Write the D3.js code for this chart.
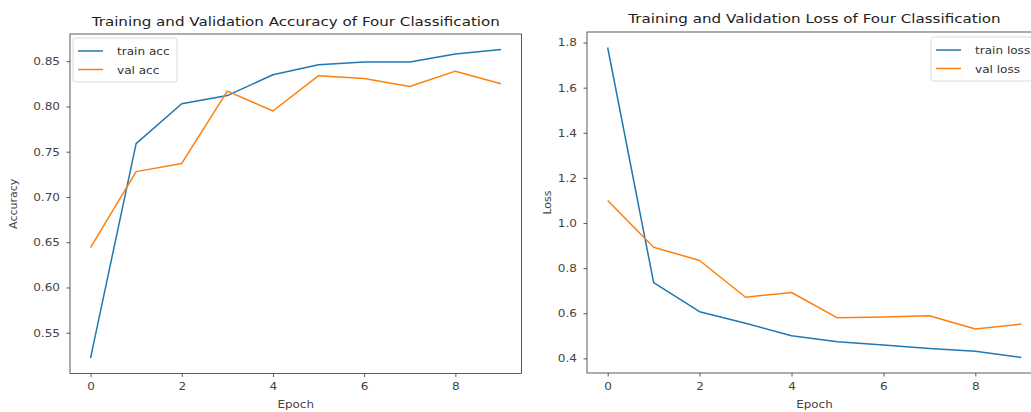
<!DOCTYPE html>
<html>
<head>
<meta charset="utf-8">
<script src="https://cdn.jsdelivr.net/npm/d3@7"></script>
<style>
  body { margin: 0; background: #fff; }
  svg { display: block; font-family: "DejaVu Sans", sans-serif; }
</style>
</head>
<body>
<svg id="chart" width="1031" height="412"></svg>
<script>
const epochs = [0, 1, 2, 3, 4, 5, 6, 7, 8, 9];
const trainAcc = [0.522, 0.759, 0.803, 0.812, 0.835, 0.846, 0.849, 0.849, 0.858, 0.863];
const valAcc = [0.644, 0.728, 0.737, 0.817, 0.795, 0.834, 0.831, 0.822, 0.839, 0.825];
const trainLoss = [1.778, 0.736, 0.607, 0.556, 0.500, 0.474, 0.459, 0.444, 0.432, 0.404];
const valLoss = [1.100, 0.893, 0.834, 0.671, 0.692, 0.580, 0.583, 0.589, 0.530, 0.552];
const xTicks = [0, 2, 4, 6, 8];
const accTicks = [0.55, 0.60, 0.65, 0.70, 0.75, 0.80, 0.85];
const lossTicks = [0.4, 0.6, 0.8, 1.0, 1.2, 1.4, 1.6, 1.8];

const BLUE = "#1f77b4", ORANGE = "#ff7f0e";
const SX = 1.15;      // horizontal stretch of the reference's text
const svg = d3.select("#chart");

function padded(vals) {
  const [a, b] = d3.extent(vals);
  const m = (b - a) * 0.05;
  return [a - m, b + m];
}

function stretchedText(parent, x, y, str, size, sx, anchor, fill) {
  return parent.append("text")
    .attr("transform", `translate(${x},${y}) scale(${sx},1)`)
    .attr("text-anchor", anchor).attr("font-size", size).attr("fill", fill).text(str);
}

function panel(opt) {
  const x = d3.scaleLinear().domain([-0.45, 9.45]).range([opt.x0, opt.x1]);
  const y = d3.scaleLinear().domain(padded(opt.series.flatMap(s => s.values))).range([opt.y1, opt.y0]);
  const g = svg.append("g");

  const line = vals => d3.line().x((d, i) => x(epochs[i])).y(d => y(d))(vals);
  opt.series.forEach(s => {
    g.append("path").attr("d", line(s.values)).attr("fill", "none")
      .attr("stroke", s.color).attr("stroke-width", 1.5).attr("stroke-linejoin", "round");
  });

  const xa = g.append("g").attr("transform", `translate(0,${opt.y1})`)
    .call(d3.axisBottom(x).tickValues(xTicks).tickFormat(d3.format("d")).tickSize(3.5).tickPadding(6));
  const ya = g.append("g").attr("transform", `translate(${opt.x0},0)`)
    .call(d3.axisLeft(y).tickValues(opt.yTicks).tickFormat(opt.fmt).tickSize(3.5).tickPadding(6.5));
  [xa, ya].forEach(a => {
    a.select(".domain").remove();
    a.selectAll("line").attr("stroke", "#333").attr("stroke-width", 0.8);
    a.selectAll("text").attr("fill", "#444").attr("font-size", 10.5).attr("font-family", "DejaVu Sans")
      .each(function () {
        const t = d3.select(this);
        const tx = +t.attr("x") || 0;
        t.attr("x", tx / SX).attr("transform", `scale(${SX},1)`);
      });
  });

  g.append("rect").attr("x", opt.x0).attr("y", opt.y0)
    .attr("width", opt.x1 - opt.x0).attr("height", opt.y1 - opt.y0)
    .attr("fill", "none").attr("stroke", "#333").attr("stroke-width", 0.8);

  stretchedText(g, (opt.x0 + opt.x1) / 2, opt.titleY, opt.title, 12.6, 1.2, "middle", "#222");
  stretchedText(g, (opt.x0 + opt.x1) / 2, 408, "Epoch", 10.8, 1.1, "middle", "#444");
  g.append("text").attr("transform", `translate(${opt.ylx},${(opt.y0 + opt.y1) / 2}) rotate(-90) scale(1.05,1)`)
    .attr("text-anchor", "middle").attr("font-size", 10.5).attr("fill", "#444").text(opt.ylabel);

  const L = opt.legend;
  const lg = g.append("g");
  lg.append("rect").attr("x", L.x).attr("y", L.y).attr("width", L.w).attr("height", L.h)
    .attr("rx", 2.5).attr("fill", "#fff").attr("fill-opacity", 0.8)
    .attr("stroke", "#d0d0d0").attr("stroke-width", 0.8);
  opt.series.forEach((s, i) => {
    const ly = L.y + 13 + i * 18.5;
    lg.append("line").attr("x1", L.x + 5).attr("x2", L.x + 30).attr("y1", ly).attr("y2", ly)
      .attr("stroke", s.color).attr("stroke-width", 1.5);
    stretchedText(lg, L.x + 44, ly + 4, s.name, 10.5, SX, "start", "#333");
  });
}

panel({
  x0: 70, x1: 521.5, y0: 34, y1: 373.5, titleY: 26,
  series: [{name: "train acc", values: trainAcc, color: BLUE}, {name: "val acc", values: valAcc, color: ORANGE}],
  yTicks: accTicks, fmt: d3.format(".2f"),
  title: "Training and Validation Accuracy of Four Classification",
  ylabel: "Accuracy", ylx: 17,
  legend: {x: 73, y: 38, w: 104, h: 44}
});

panel({
  x0: 587, x1: 1042, y0: 32, y1: 373, titleY: 23,
  series: [{name: "train loss", values: trainLoss, color: BLUE}, {name: "val loss", values: valLoss, color: ORANGE}],
  yTicks: lossTicks, fmt: d3.format(".1f"),
  title: "Training and Validation Loss of Four Classification",
  ylabel: "Loss", ylx: 551,
  legend: {x: 931, y: 37, w: 110, h: 44}
});
</script>
</body>
</html>
